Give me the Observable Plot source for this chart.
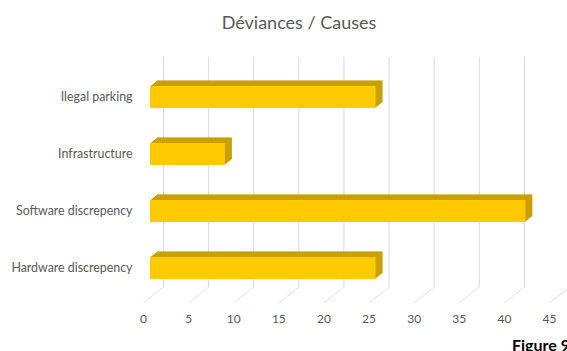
<!DOCTYPE html>
<html><head><meta charset="utf-8">
<script src="https://cdn.jsdelivr.net/npm/d3@7"></script>
<script src="https://cdn.jsdelivr.net/npm/@observablehq/plot@0.6"></script>
<style>
body{margin:0;background:#fff;font-family:Lato,sans-serif;}
#wrap{position:relative;width:567px;height:351px;overflow:hidden;}
#wrap svg{position:absolute;left:0;top:0;}
#title{position:absolute;left:31px;width:536px;top:11px;text-align:center;font-size:18px;line-height:22px;color:#595959;}
#fig{position:absolute;left:512px;top:336px;font-weight:bold;font-size:16px;line-height:18px;color:#000;white-space:nowrap;}
</style></head><body><div id="wrap"></div>
<script>
const causes = ["Ilegal parking", "Infrastructure", "Software discrepency", "Hardware discrepency"];
const counts = [25, 8.3, 41.6, 25];
const xTicks = [0, 5, 10, 15, 20, 25, 30, 35, 40, 45];
const titleText = "Déviances / Causes";
const captionText = "Figure 9";

const FRONT = "#FFCA00", TOP = "#C8A000", SIDE = "#A68500", GRID = "#d9d9d9";
const data = causes.map((c, i) => ({cause: c, value: counts[i]}));
const depth = [1, 2, 3, 4, 5, 6, 7];

const marks = [
  Plot.ruleX(xTicks, {x: d => d, dx: 13, insetTop: 6, insetBottom: 27, stroke: GRID}),
  Plot.ruleX(xTicks, {x: d => d, insetTop: 236, insetBottom: 11, stroke: GRID, ariaDescription: "floor"})
];
depth.forEach(i => marks.push(Plot.barX(data, {x: "value", y: "cause", dx: i, dy: -0.8 * i, fill: TOP})));
depth.forEach(i => marks.push(Plot.ruleX(data, {x: "value", y: "cause", dx: i, dy: -0.8 * i, stroke: SIDE, strokeWidth: 1.5})));
marks.push(Plot.barX(data, {x: "value", y: "cause", fill: FRONT}));
marks.push(Plot.axisY({tickSize: 0, tickPadding: 18, fontSize: 12.4, label: null}));
marks.push(Plot.axisX({ticks: xTicks, tickSize: 0, tickPadding: 0, dx: -7, fontSize: 12, label: null}));

const plot = Plot.plot({
  width: 567, height: 351,
  marginLeft: 150, marginRight: 11, marginTop: 51, marginBottom: 37,
  style: {fontFamily: "Lato, sans-serif", color: "#595959", background: "transparent"},
  x: {domain: [0, 45], label: null},
  y: {domain: causes, padding: 0.614, label: null},
  marks
});
const wrap = document.getElementById("wrap");
wrap.appendChild(plot);

// skew the floor lines into perspective (back edge at y=287, front edge at y=303)
const k = -20 / 16, yBack = 287;
const tx = 13 - yBack * k;
const deg = Math.atan(k) * 180 / Math.PI;
plot.querySelectorAll('[aria-description="floor"]').forEach(el => {
  el.setAttribute("transform", (el.getAttribute("transform") || "") + ` translate(${tx},0) skewX(${deg})`);
});

const t = document.createElement("div"); t.id = "title"; t.textContent = titleText; wrap.appendChild(t);
const f = document.createElement("div"); f.id = "fig"; f.textContent = captionText; wrap.appendChild(f);
</script></body></html>
